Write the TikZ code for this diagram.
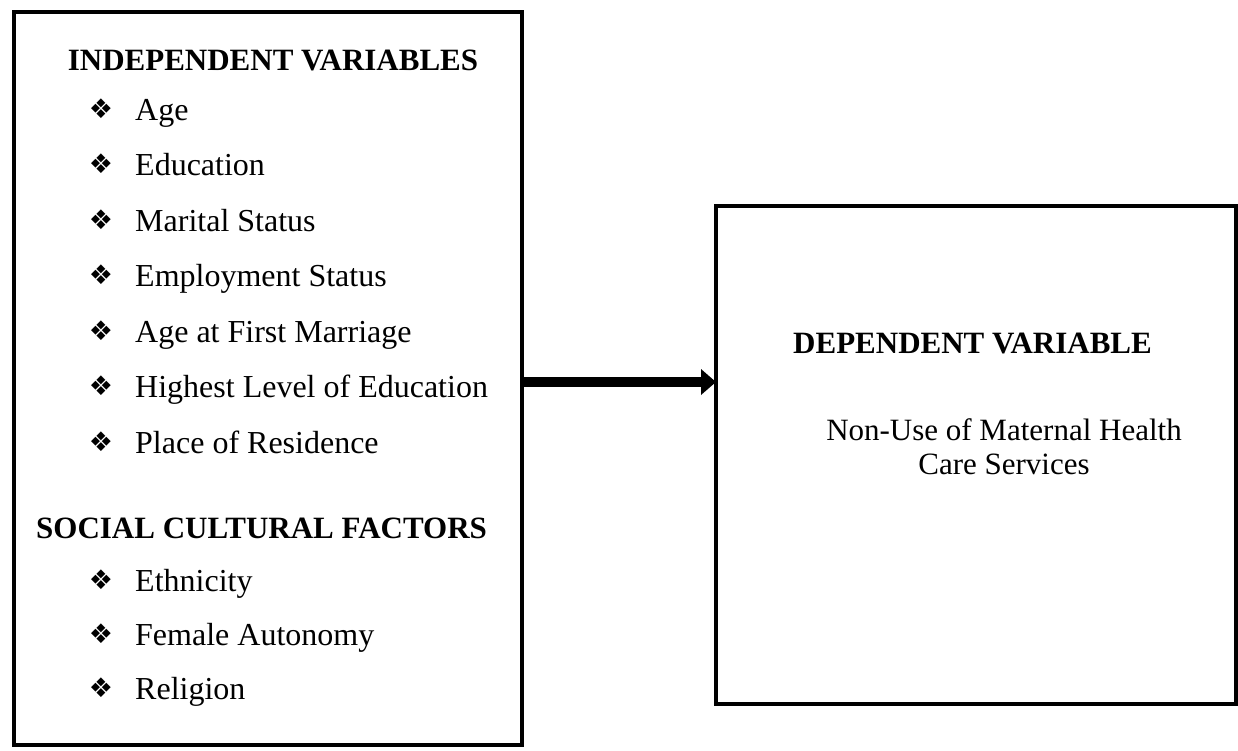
\documentclass[tikz,border=0pt]{standalone}
\usepackage{fontspec}
\setmainfont{Liberation Serif}
\newfontfamily\symfont{DejaVu Sans}
\usetikzlibrary{arrows.meta}
\tikzset{
  box/.style={draw=black, line width=4.5pt, inner sep=0pt, outer sep=0pt},
  head/.style={font=\fontsize{31}{34}\selectfont\bfseries, inner sep=0pt, anchor=base west},
  item/.style={font=\fontsize{32}{36}\selectfont, inner sep=0pt, anchor=base west},
  bul/.style={font=\symfont\fontsize{27}{30}\selectfont, inner sep=0pt, anchor=center},
  body/.style={font=\fontsize{31}{34}\selectfont, inner sep=0pt, align=center},
  link/.style={line width=10pt, -{Triangle[length=15pt,width=25pt]}}
}
\newcommand{\bitem}[3]{%
  \node[bul] (b#1) at (101,#2-11) {❖};
  \node[item] (t#1) at (135,#2) {#3};}
\begin{document}
\begin{tikzpicture}[x=1pt,y=-1pt]
\useasboundingbox (0,0) rectangle (1238,750);
\node[box, minimum width=508pt, minimum height=733pt] (indep) at (268,378.5) {};
\node[box, minimum width=520pt, minimum height=498pt] (dep) at (976,455) {};
\node[head, anchor=base] (h1) at (273,70) {INDEPENDENT VARIABLES};
\bitem{1}{120}{Age}
\bitem{2}{175}{Education}
\bitem{3}{231}{Marital Status}
\bitem{4}{286}{Employment Status}
\bitem{5}{342}{Age at First Marriage}
\bitem{6}{397}{Highest Level of Education}
\bitem{7}{453}{Place of Residence}
\node[head] (h2) at (36,538) {SOCIAL CULTURAL FACTORS};
\bitem{8}{591}{Ethnicity}
\bitem{9}{645}{Female Autonomy}
\bitem{10}{699}{Religion}
\node[head] (h3) at (793,353) {DEPENDENT VARIABLE};
\node[body] (nu) at (1004,447) {Non-Use of Maternal Health\\Care Services};
\coordinate (ay) at (0,382);
\draw[link] (indep.east |- ay) -- (dep.west |- ay);
\end{tikzpicture}
\end{document}
